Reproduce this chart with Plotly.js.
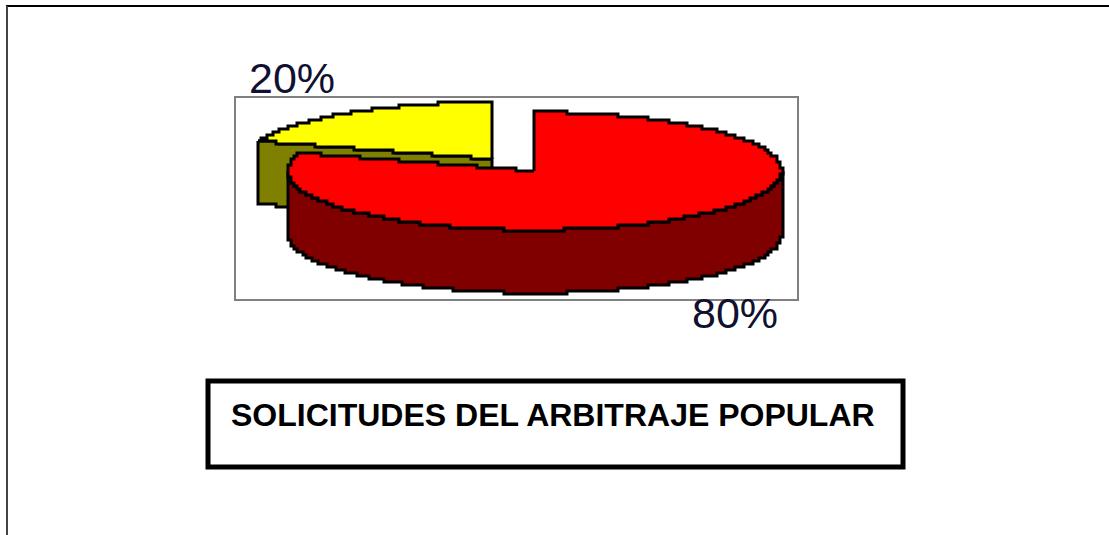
<!DOCTYPE html>
<html>
<head>
<meta charset="utf-8">
<script src="https://cdn.plot.ly/plotly-3.0.1.min.js"></script>
<style>html,body{margin:0;padding:0;background:#fff;overflow:hidden}#chart{width:1109px;height:535px}</style>
</head>
<body>
<div id="chart"></div>
<script>
const categories = ['Amarillo', 'Rojo'];
const shares = [20, 80];
const shareLabels = ['20%', '80%'];
const chartTitle = 'SOLICITUDES DEL ARBITRAJE POPULAR';

const RX = 247, DEPTH = 63, STEP = 3;
const snap = v => Math.round(v / STEP) * STEP;
const total = shares[0] + shares[1];
const redEnd = 360 * shares[1] / total;

function pt(c, deg, ry, dy) {
  const t = deg * Math.PI / 180;
  return [snap(c[0] + RX * Math.sin(t)), snap(c[1] - ry * Math.cos(t) + (dy || 0))];
}
function arc(c, ry, a, b, dy) {
  const out = [], n = Math.max(2, Math.round(Math.abs(b - a) * 2));
  for (let i = 0; i <= n; i++) out.push(pt(c, a + (b - a) * i / n, ry, dy));
  return out;
}
// straight edge between two points, following the same pixel grid
function edge(a, b) {
  const out = [], n = Math.max(1, Math.round(Math.abs(b[0] - a[0]) / STEP));
  for (let i = 0; i <= n; i++) out.push([snap(a[0] + (b[0] - a[0]) * i / n), snap(a[1] + (b[1] - a[1]) * i / n)]);
  return out;
}
function poly(points, fill) {
  const p = points.concat([points[0]]);
  return {type: 'scatter', mode: 'lines', x: p.map(q => q[0]), y: p.map(q => q[1]),
    fill: 'toself', fillcolor: fill, line: {color: '#000', width: 3, shape: 'hv'},
    hoverinfo: 'skip', showlegend: false};
}

const redC = [535, 171], yelC = [493, 159];
const redRy = 59, yelRy = 57;
const apexR = [snap(redC[0]), snap(redC[1])];
const apexY = [snap(yelC[0]), snap(yelC[1])];

const tipY = pt(yelC, redEnd, yelRy);
const tipR = pt(redC, redEnd, redRy);
const olive = edge(tipY, apexY).concat(edge([apexY[0], apexY[1] + DEPTH], [tipY[0], tipY[1] + DEPTH]));
const yellowTop = edge(apexY, tipY).concat(arc(yelC, yelRy, redEnd, 360));
const redSide = arc(redC, redRy, 90, 270).concat(arc(redC, redRy, 270, 90, DEPTH));
const redTop = [apexR].concat(arc(redC, redRy, 0, redEnd)).concat(edge(tipR, apexR));

const data = [
  Object.assign(poly(olive, '#808000'), {name: categories[0]}),
  Object.assign(poly(yellowTop, '#ffff00'), {name: categories[0]}),
  Object.assign(poly(redSide, '#800000'), {name: categories[1]}),
  Object.assign(poly(redTop, '#ff0000'), {name: categories[1]})
];

const ln = (x0, y0, x1, y1, color, width) => ({type: 'line', xref: 'x', yref: 'y', x0, y0, x1, y1, line: {color, width}});
const layout = {
  width: 1109, height: 535,
  margin: {l: 0, r: 0, t: 0, b: 0},
  paper_bgcolor: '#fff', plot_bgcolor: '#fff',
  showlegend: false,
  xaxis: {range: [0, 1109], visible: false, fixedrange: true},
  yaxis: {range: [535, 0], visible: false, fixedrange: true},
  shapes: [
    ln(6, 6, 1109, 6, '#000', 2),
    ln(7, 6, 7, 535, '#444', 2),
    {type: 'rect', xref: 'x', yref: 'y', x0: 235, y0: 97, x1: 798, y1: 300, line: {color: '#808080', width: 2}, layer: 'below'},
    {type: 'rect', xref: 'x', yref: 'y', x0: 208, y0: 381, x1: 903, y1: 467, line: {color: '#000', width: 5}}
  ],
  annotations: [
    {xref: 'x', yref: 'y', x: 292, y: 78, text: shareLabels[0], showarrow: false, xanchor: 'center', yanchor: 'middle',
      font: {family: 'Liberation Sans', size: 43, color: '#101030'}},
    {xref: 'x', yref: 'y', x: 735, y: 313, text: shareLabels[1], showarrow: false, xanchor: 'center', yanchor: 'middle',
      font: {family: 'Liberation Sans', size: 43, color: '#101030'}},
    {xref: 'x', yref: 'y', x: 553, y: 415, text: '<b>' + chartTitle + '</b>', showarrow: false, xanchor: 'center', yanchor: 'middle',
      font: {family: 'Liberation Sans', size: 32, color: '#000'}}
  ]
};
Plotly.newPlot('chart', data, layout, {displayModeBar: false, staticPlot: true});
</script>
</body>
</html>
